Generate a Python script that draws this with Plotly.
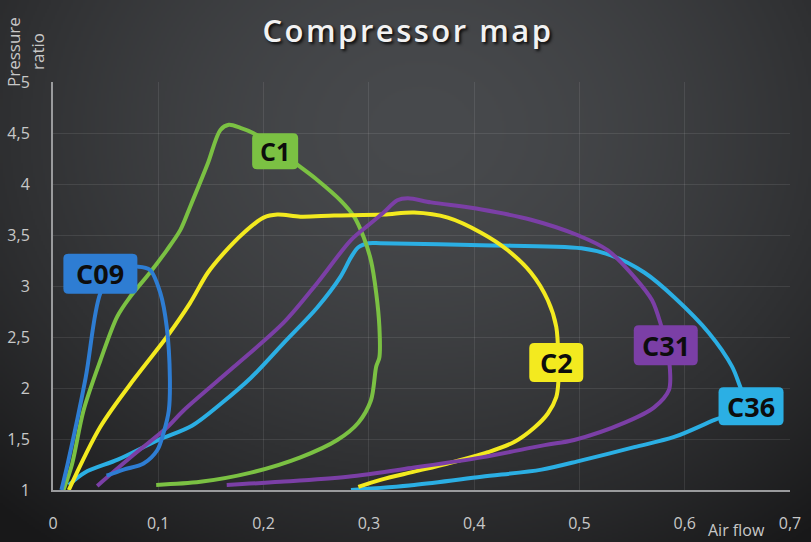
import zlib, struct, base64
import numpy as np
import plotly.graph_objects as go

# ---------------- data ----------------
c1_x = [0.010, 0.018, 0.029, 0.045, 0.061, 0.073, 0.092, 0.108, 0.121, 0.130, 0.147, 0.159, 0.167, 0.178,
        0.190, 0.211, 0.232, 0.251, 0.273, 0.286, 0.295, 0.302, 0.307, 0.310, 0.310, 0.307, 0.302, 0.290,
        0.270, 0.235, 0.188, 0.140, 0.098]
c1_y = [1.00, 1.25, 1.78, 2.27, 2.70, 2.89, 3.13, 3.35, 3.55, 3.77, 4.20, 4.53, 4.58, 4.55,
        4.50, 4.36, 4.19, 4.04, 3.84, 3.68, 3.48, 3.25, 2.93, 2.60, 2.30, 2.21, 1.88, 1.66,
        1.49, 1.32, 1.17, 1.08, 1.05]

c09_x = [0.008, 0.014, 0.031, 0.045, 0.060, 0.080, 0.092, 0.102, 0.108, 0.111, 0.110, 0.105, 0.099, 0.086, 0.067, 0.051]
c09_y = [1.00, 1.26, 2.10, 2.93, 3.17, 3.19, 3.16, 2.93, 2.60, 2.10, 1.78, 1.56, 1.39, 1.26, 1.20, 1.14]

c2_x = [0.015, 0.045, 0.078, 0.108, 0.130, 0.147, 0.162, 0.181, 0.200, 0.213, 0.235, 0.267, 0.314, 0.343,
        0.375, 0.407, 0.432, 0.454, 0.470, 0.478, 0.480, 0.480, 0.478, 0.470, 0.457, 0.438, 0.413,
        0.375, 0.343, 0.311, 0.290]
c2_y = [1.00, 1.62, 2.10, 2.50, 2.83, 3.13, 3.32, 3.52, 3.67, 3.70, 3.68, 3.69, 3.70, 3.72,
        3.67, 3.52, 3.35, 3.13, 2.86, 2.60, 2.25, 2.06, 1.91, 1.75, 1.61, 1.47, 1.37,
        1.26, 1.18, 1.10, 1.03]

c31_x = [0.042, 0.076, 0.108, 0.124, 0.171, 0.219, 0.251, 0.283, 0.300, 0.314, 0.327, 0.337, 0.359, 0.407,
         0.454, 0.498, 0.527, 0.552, 0.569, 0.578, 0.583, 0.586, 0.585, 0.571, 0.543, 0.495, 0.467,
         0.407, 0.343, 0.280, 0.216, 0.165]
c31_y = [1.04, 1.34, 1.61, 1.78, 2.20, 2.64, 3.03, 3.45, 3.60, 3.72, 3.84, 3.86, 3.82, 3.75,
         3.65, 3.50, 3.35, 3.09, 2.86, 2.60, 2.42, 2.18, 1.98, 1.81, 1.66, 1.49, 1.44,
         1.32, 1.22, 1.13, 1.08, 1.05]

c36_x = [0.015, 0.030, 0.062, 0.100, 0.132, 0.160, 0.188, 0.219, 0.251, 0.273, 0.283, 0.290, 0.300, 0.311,
         0.407, 0.502, 0.530, 0.562, 0.590, 0.623, 0.645, 0.654, 0.662, 0.629, 0.590, 0.552, 0.502,
         0.464, 0.407, 0.343, 0.283]
c36_y = [1.05, 1.17, 1.30, 1.49, 1.63, 1.85, 2.10, 2.44, 2.79, 3.09, 3.28, 3.38, 3.42, 3.42,
         3.40, 3.37, 3.30, 3.13, 2.89, 2.54, 2.21, 1.98, 1.82, 1.69, 1.52, 1.42, 1.29,
         1.20, 1.13, 1.05, 1.00]

series_names = ["C36", "C1", "C2", "C31", "C09"]
series_x = [c36_x, c1_x, c2_x, c31_x, c09_x]
series_y = [c36_y, c1_y, c2_y, c31_y, c09_y]

label_names = ["C1", "C09", "C2", "C31", "C36"]
label_x = [0.211, 0.045, 0.478, 0.582, 0.663]
label_y = [4.32, 3.12, 2.25, 2.42, 1.82]

x_tick_vals = [0, 0.1, 0.2, 0.3, 0.4, 0.5, 0.6, 0.7]
x_tick_text = ["0", "0,1", "0,2", "0,3", "0,4", "0,5", "0,6", "0,7"]
y_tick_vals = [1, 1.5, 2, 2.5, 3, 3.5, 4, 4.5, 5]
y_tick_text = ["1", "1,5", "2", "2,5", "3", "3,5", "4", "4,5", "5"]

# ---------------- styles ----------------
colors = {"C1": "#7bc143", "C09": "#2e7dd3", "C2": "#f3ea1f", "C31": "#7b3fa6", "C36": "#2bafe4"}
label_box = {"C1": (46, 36, 25), "C09": (74, 40, 27), "C2": (54, 39, 27), "C31": (64, 40, 27), "C36": (65, 38, 27)}
corner_r = 5

W, H = 811, 542
ML, MR, MT, MB = 53, 21, 82, 52
PW, PH = W - ML - MR, H - MT - MB


def png_uri(arr):
    h, w, _ = arr.shape
    raw = b"".join(b"\x00" + arr[i].tobytes() for i in range(h))

    def chunk(tag, data):
        c = struct.pack(">I", len(data)) + tag + data
        return c + struct.pack(">I", zlib.crc32(tag + data) & 0xFFFFFFFF)

    png = (b"\x89PNG\r\n\x1a\n"
           + chunk(b"IHDR", struct.pack(">IIBBBBB", w, h, 8, 2, 0, 0, 0))
           + chunk(b"IDAT", zlib.compress(raw, 9))
           + chunk(b"IEND", b""))
    return "data:image/png;base64," + base64.b64encode(png).decode()


def rounded_rect_path(w, h, r):
    a, b = w / 2.0, h / 2.0
    return (f"M {-a + r},{-b} L {a - r},{-b} Q {a},{-b} {a},{-b + r} "
            f"L {a},{b - r} Q {a},{b} {a - r},{b} L {-a + r},{b} "
            f"Q {-a},{b} {-a},{b - r} L {-a},{-b + r} Q {-a},{-b} {-a + r},{-b} Z")


gw, gh = W // 2, H // 2
yy, xx = np.mgrid[0:gh, 0:gw].astype(float)
xx *= 2
yy *= 2
d = np.sqrt(((xx - 420) / 620) ** 2 + ((yy - 130) / 520) ** 2)
d = np.clip(d, 0, 1) ** 1.6
center = np.array([72, 74, 77], float)
edge = np.array([24, 24, 25], float)
img = (center[None, None, :] * (1 - d[..., None]) + edge[None, None, :] * d[..., None]).astype(np.uint8)
bg_uri = png_uri(img)

fig = go.Figure()
for name, xs, ys in zip(series_names, series_x, series_y):
    fig.add_trace(go.Scatter(
        x=xs, y=ys, mode="lines", name=name,
        line=dict(color=colors[name], width=4, shape="spline", smoothing=0.9),
        hoverinfo="skip", showlegend=False,
    ))

annotations = []
shapes = []
for name, lx, ly in zip(label_names, label_x, label_y):
    bw, bh, fs = label_box[name]
    shapes.append(dict(
        type="path", xref="x", yref="y", xsizemode="pixel", ysizemode="pixel",
        xanchor=lx, yanchor=ly, path=rounded_rect_path(bw, bh, corner_r),
        fillcolor=colors[name], line=dict(width=0), layer="above",
    ))
    annotations.append(dict(
        x=lx, y=ly, xref="x", yref="y", text="<b>%s</b>" % name, showarrow=False,
        font=dict(family="Open Sans", size=fs, color="#0d0d0d"),
        xanchor="center", yanchor="middle",
    ))

# rotated two-line y-axis title: "Pressure" / "ratio"
for txt, px, py in (("Pressure", 13, 52), ("ratio", 37, 52)):
    annotations.append(dict(
        x=(px - ML) / PW, y=1 + (MT - py) / PH, xref="paper", yref="paper",
        text=txt, textangle=-90, showarrow=False,
        font=dict(family="Open Sans", size=17, color="#c8c8c8"),
        xanchor="center", yanchor="middle",
    ))
annotations.append(dict(
    x=(736 - ML) / PW, y=-(530 - (H - MB)) / PH, xref="paper", yref="paper",
    text="Air flow", showarrow=False,
    font=dict(family="Open Sans", size=16, color="#c8c8c8"),
    xanchor="center", yanchor="middle",
))

axis_common = dict(
    showgrid=True, gridcolor="rgba(255,255,255,0.09)", gridwidth=1,
    showline=True, linecolor="#9a9b9d", linewidth=2, zeroline=False,
    ticks="outside", ticklen=18, tickcolor="rgba(0,0,0,0)",
    tickfont=dict(family="Open Sans", size=16, color="#c8c8c8"),
    automargin=False, fixedrange=True,
)

fig.update_layout(
    width=W, height=H,
    margin=dict(l=ML, r=MR, t=MT, b=MB, pad=0, autoexpand=False),
    paper_bgcolor="#2e2f31",
    plot_bgcolor="rgba(0,0,0,0)",
    separators=",.",
    title=dict(
        text='<span style="letter-spacing:2.5px">Compressor map</span>',
        x=408 / W, xref="container", xanchor="center",
        y=1 - 31 / H, yref="container", yanchor="middle",
        font=dict(family="Open Sans", size=31, weight=600, color="#f2f2f2",
                  shadow="2px 2px 3px rgba(0,0,0,0.85)"),
        automargin=False,
    ),
    xaxis=dict(range=[0, 0.7], tickvals=x_tick_vals, ticktext=x_tick_text, **axis_common),
    yaxis=dict(range=[1, 5], tickvals=y_tick_vals, ticktext=y_tick_text, **axis_common),
    images=[dict(
        source=bg_uri, xref="paper", yref="paper",
        x=-ML / PW, y=1 + MT / PH, sizex=W / PW, sizey=H / PH,
        xanchor="left", yanchor="top", sizing="stretch", layer="below",
    )],
    shapes=shapes,
    annotations=annotations,
)

fig.write_html(
    "out.html",
    config={"displayModeBar": False, "staticPlot": True},
    post_script="document.body.style.margin='0';document.body.style.padding='0';"
                "document.body.style.overflow='hidden';document.body.style.background='#2e2f31';",
)
